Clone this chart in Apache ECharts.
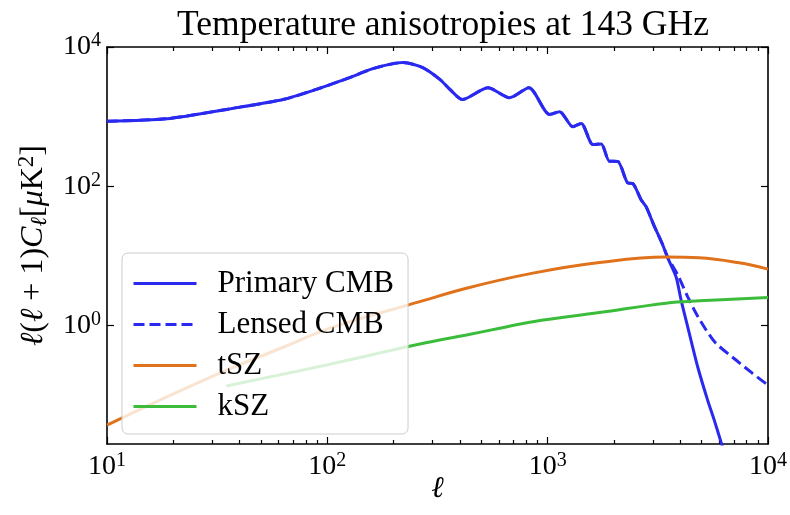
<!DOCTYPE html>
<html>
<head>
<meta charset="utf-8">
<script src="https://cdn.jsdelivr.net/npm/echarts@6/dist/echarts.min.js"></script>
<style>html,body{margin:0;padding:0;background:#fff}#c{width:790px;height:515px}</style>
</head>
<body>
<div id="c"></div>
<script>
// ---- data ----
const titleText = 'Temperature anisotropies at 143 GHz';
const seriesNames = ['Primary CMB', 'Lensed CMB', 'tSZ', 'kSZ'];

const primaryL = [10, 18.7, 37, 63, 89, 114, 128, 161, 220, 271, 324, 360, 410, 536, 672, 822, 1020, 1133, 1301, 1420, 1603, 1750, 1907, 2080, 2308, 2433, 2655, 2797, 3050, 3326, 3506, 3828, 4030, 4318, 4795, 5320, 5703, 6118, 6500];
const primaryV = [861, 933, 1313, 1766, 2462, 3243, 3700, 4890, 5970, 5060, 3430, 2462, 1767, 2606, 1871, 2606, 1076, 1180, 716, 800, 398, 405, 229, 228, 112, 110, 64, 51, 26.6, 14.5, 9.4, 5.0, 2.34, 0.97, 0.257, 0.0853, 0.044, 0.0214, 0.012];

const lensedL = [10, 18.7, 37, 63, 89, 114, 128, 161, 220, 271, 324, 360, 410, 536, 672, 822, 1020, 1133, 1301, 1420, 1603, 1750, 1907, 2080, 2308, 2433, 2655, 2797, 3050, 3326, 3506, 3891, 4318, 4713, 5236, 5800, 7155, 8513, 10000];
const lensedV = [861, 933, 1313, 1766, 2462, 3243, 3700, 4890, 5970, 5060, 3430, 2462, 1767, 2606, 1871, 2606, 1076, 1180, 716, 800, 398, 405, 229, 228, 112, 110, 64, 51, 26.6, 14.5, 9.6, 5.37, 2.61, 1.51, 0.867, 0.558, 0.321, 0.206, 0.140];

const tszL = [10, 18.7, 35, 61, 106, 263, 428, 857, 1718, 3443, 4875, 7390, 10000];
const tszV = [0.0373, 0.095, 0.23, 0.47, 0.95, 2.21, 3.45, 5.67, 8.05, 9.64, 9.42, 7.98, 6.48];

const kszL = [34.8, 103, 263, 428, 606, 857, 1718, 3443, 4875, 10000];
const kszV = [0.136, 0.28, 0.545, 0.735, 0.918, 1.14, 1.54, 2.10, 2.27, 2.53];

const xRange = [10, 10000];
const yRange = [0.02, 10000];
const xMajorTicks = [10, 100, 1000, 10000];
const xMinorTicks = [20, 30, 40, 50, 60, 70, 80, 90, 200, 300, 400, 500, 600, 700, 800, 900, 2000, 3000, 4000, 5000, 6000, 7000, 8000, 9000];
const yMajorTicks = [1, 100, 10000];

// ---- chart ----
const FONT = '"Liberation Serif", "DejaVu Serif", serif';
const pair = (xs, ys) => xs.map((x, i) => [x, ys[i]]);
const lg = v => Math.log10(v);

const supLabel = v => '{b|10}{s|' + Math.round(v) + '}';
const tickRich = {
  b: { fontSize: 28, fontFamily: FONT, color: '#000' },
  s: { fontSize: 20, fontFamily: FONT, color: '#000', padding: [0, 0, 12, 0] }
};

function overlayX(position, ticks, len, withLabels, withLine) {
  return {
    type: 'value', gridIndex: 0, position: position,
    min: lg(xRange[0]), max: lg(xRange[1]),
    axisLine: { show: withLine, onZero: false, lineStyle: { color: '#000', width: 1.6 } },
    axisTick: { show: true, inside: true, length: len, customValues: ticks.map(lg), lineStyle: { color: '#000', width: 1.2 } },
    axisLabel: withLabels ? { show: true, customValues: ticks.map(lg), formatter: supLabel, rich: tickRich, margin: 7 } : { show: false },
    splitLine: { show: false }
  };
}
function overlayY(position, ticks, len, withLabels, withLine) {
  return {
    type: 'value', gridIndex: 0, position: position,
    min: lg(yRange[0]), max: lg(yRange[1]),
    axisLine: { show: withLine, onZero: false, lineStyle: { color: '#000', width: 1.6 } },
    axisTick: { show: true, inside: true, length: len, customValues: ticks.map(lg), lineStyle: { color: '#000', width: 1.2 } },
    axisLabel: withLabels ? { show: true, customValues: ticks.map(lg), formatter: supLabel, rich: tickRich, margin: 6 } : { show: false },
    splitLine: { show: false }
  };
}

const chart = echarts.init(document.getElementById('c'), null, { renderer: 'canvas' });
chart.setOption({
  animation: false,
  backgroundColor: '#fff',
  title: {
    text: titleText, left: 438, top: 3, textAlign: 'center',
    textStyle: { fontFamily: FONT, fontSize: 35.5, fontWeight: 'normal', color: '#000' }
  },
  grid: { left: 107, right: 21, top: 47, bottom: 71, containLabel: false },
  xAxis: [
    {
      type: 'log', logBase: 10, gridIndex: 0, position: 'bottom', min: xRange[0], max: xRange[1],
      axisLine: { show: true, onZero: false, lineStyle: { color: '#000', width: 1.6 } },
      axisTick: { show: false }, axisLabel: { show: false }, splitLine: { show: false }, minorTick: { show: false },
      name: 'ℓ', nameLocation: 'middle', nameGap: 30,
      nameTextStyle: { fontFamily: FONT, fontStyle: 'italic', fontSize: 30, color: '#000' }
    },
    overlayX('bottom', xMajorTicks, 7, true, false),
    overlayX('bottom', xMinorTicks, 4, false, false),
    overlayX('top', xMajorTicks, 7, false, true),
    overlayX('top', xMinorTicks, 4, false, false)
  ],
  yAxis: [
    {
      type: 'log', logBase: 10, gridIndex: 0, position: 'left', min: yRange[0], max: yRange[1],
      axisLine: { show: true, onZero: false, lineStyle: { color: '#000', width: 1.6 } },
      axisTick: { show: false }, axisLabel: { show: false }, splitLine: { show: false }, minorTick: { show: false },
      name: '{i|ℓ}{r|(}{i|ℓ}{r| + 1)}{i|C}{sub|ℓ}{r|[}{i|μ}{r|K}{sup|2}{r|]}',
      nameLocation: 'middle', nameRotate: 90, nameGap: 55,
      nameTextStyle: {
        color: '#000',
        rich: {
          i: { fontFamily: FONT, fontStyle: 'italic', fontSize: 32, color: '#000' },
          r: { fontFamily: FONT, fontSize: 32, color: '#000' },
          sub: { fontFamily: FONT, fontStyle: 'italic', fontSize: 23, color: '#000', padding: [12, 0, 0, 0] },
          sup: { fontFamily: FONT, fontSize: 23, color: '#000', padding: [0, 0, 14, 0] }
        }
      }
    },
    overlayY('left', yMajorTicks, 7, true, false),
    overlayY('right', yMajorTicks, 7, false, true)
  ],
  legend: {
    orient: 'vertical', left: 122, top: 253,
    data: seriesNames,
    backgroundColor: 'rgba(255,255,255,0.8)',
    borderColor: '#cccccc', borderWidth: 1, borderRadius: 6,
    padding: [15, 14, 12, 10],
    itemWidth: 63, itemHeight: 28, itemGap: 10,
    itemStyle: { color: 'rgba(0,0,0,0)', borderColor: 'rgba(0,0,0,0)', borderWidth: 0, opacity: 0 },
    lineStyle: { width: 3 },
    textStyle: { fontFamily: FONT, fontSize: 31, color: '#000', padding: [0, 0, 0, 16] }
  },
  series: [
    { name: seriesNames[0], type: 'line', xAxisIndex: 0, yAxisIndex: 0, data: pair(primaryL, primaryV),
      symbol: 'none', smooth: 0.25, clip: true, lineStyle: { color: '#2929ef', width: 3 }, itemStyle: { color: '#2929ef' } },
    { name: seriesNames[1], type: 'line', xAxisIndex: 0, yAxisIndex: 0, data: pair(lensedL, lensedV),
      symbol: 'none', smooth: 0.25, clip: true, lineStyle: { color: '#2929ef', width: 3, type: [11, 5] }, itemStyle: { color: '#2929ef' } },
    { name: seriesNames[2], type: 'line', xAxisIndex: 0, yAxisIndex: 0, data: pair(tszL, tszV),
      symbol: 'none', smooth: 0.4, clip: true, lineStyle: { color: '#e0721c', width: 3 }, itemStyle: { color: '#e0721c' } },
    { name: seriesNames[3], type: 'line', xAxisIndex: 0, yAxisIndex: 0, data: pair(kszL, kszV),
      symbol: 'none', smooth: 0.4, clip: true, lineStyle: { color: '#3bbd3b', width: 3 }, itemStyle: { color: '#3bbd3b' } }
  ]
});
</script>
</body>
</html>
